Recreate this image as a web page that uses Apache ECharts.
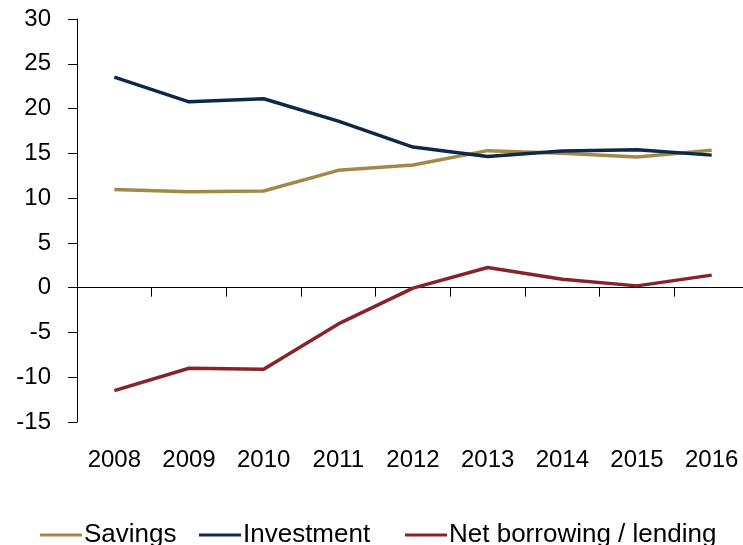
<!DOCTYPE html>
<html>
<head>
<meta charset="utf-8">
<script src="https://cdn.jsdelivr.net/npm/echarts@6/dist/echarts.min.js"></script>
<style>
  html, body { margin: 0; padding: 0; background: #fff; overflow: hidden; }
  /* the canvas is a little wider than the window so the plot area runs off the right edge */
  #chart { width: 749px; height: 545px; }
</style>
</head>
<body>
<div id="chart"></div>
<script>
// Years on the category axis
const years = ['2008', '2009', '2010', '2011', '2012', '2013', '2014', '2015', '2016'];

// Values, % of GDP
const savings = [10.95, 10.7, 10.8, 13.1, 13.7, 15.3, 15.0, 14.6, 15.35];
const investment = [23.5, 20.75, 21.1, 18.6, 15.7, 14.65, 15.25, 15.4, 14.8];
const netBorrowing = [-11.5, -9.0, -9.1, -4.05, -0.05, 2.25, 0.95, 0.2, 1.4];

// Series names and colours
const seriesNames = ['Savings', 'Investment', 'Net borrowing / lending'];
const seriesColors = ['#A4884A', '#0C2A48', '#872428'];

// Left axis range and step
const yMin = -15;
const yMax = 30;
const yStep = 5;

const FONT = "'Liberation Sans', Arial, sans-serif";

const chart = echarts.init(document.getElementById('chart'), null, { renderer: 'canvas' });

const lineSeries = (name, data, color) => ({
  name: name,
  type: 'line',
  xAxisIndex: 0,
  data: data,
  symbol: 'none',
  smooth: false,
  lineStyle: { color: color, width: 3.5 },
  itemStyle: { color: color },
  emphasis: { disabled: true },
  z: 3
});

// one legend block per series so each entry sits at its own x position
const legendLefts = [40, 199, 405];
const legends = seriesNames.map((name, i) => ({
  left: legendLefts[i],
  top: 522,
  orient: 'horizontal',
  itemWidth: 42,
  itemHeight: 3,
  itemGap: 0,
  icon: 'rect',
  padding: 0,
  textStyle: { fontFamily: FONT, fontSize: 26, color: '#000', padding: [0, 0, 0, -3] },
  data: [name]
}));

chart.setOption({
  animation: false,
  backgroundColor: '#ffffff',
  grid: { left: 77, right: 0, top: 19, bottom: 123, containLabel: false },
  legend: legends,
  xAxis: [
    {
      // labels along the bottom edge
      type: 'category',
      data: years,
      position: 'bottom',
      boundaryGap: true,
      axisLine: { show: false, onZero: false },
      axisTick: { show: false },
      axisLabel: { fontFamily: FONT, fontSize: 24, color: '#000', margin: 26 },
      splitLine: { show: false }
    },
    {
      // baseline drawn through zero with tick marks between years
      type: 'category',
      data: years,
      position: 'bottom',
      boundaryGap: true,
      axisLine: { show: true, onZero: true, lineStyle: { color: '#000', width: 1 } },
      axisTick: { show: true, inside: false, length: 9, alignWithLabel: false, lineStyle: { color: '#000', width: 1 } },
      axisLabel: { show: false },
      splitLine: { show: false }
    }
  ],
  yAxis: {
    type: 'value',
    min: yMin,
    max: yMax,
    interval: yStep,
    axisLine: { show: true, onZero: false, lineStyle: { color: '#000', width: 1 } },
    axisTick: { show: true, length: 9, lineStyle: { color: '#000', width: 1 } },
    axisLabel: { fontFamily: FONT, fontSize: 24, color: '#000', margin: 26 },
    splitLine: { show: false }
  },
  series: [
    lineSeries(seriesNames[0], savings, seriesColors[0]),
    lineSeries(seriesNames[1], investment, seriesColors[1]),
    lineSeries(seriesNames[2], netBorrowing, seriesColors[2])
  ]
});
</script>
</body>
</html>
